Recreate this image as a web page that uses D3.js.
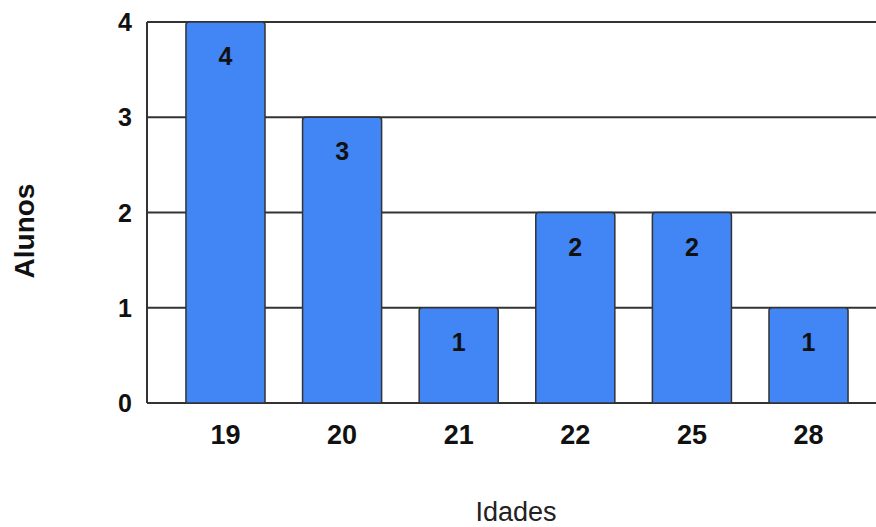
<!DOCTYPE html>
<html>
<head>
<meta charset="utf-8">
<script src="https://cdn.jsdelivr.net/npm/d3@7"></script>
<style>
  body { margin: 0; background: #fff; }
  svg { display: block; font-family: "Liberation Sans", Arial, sans-serif; }
</style>
</head>
<body>
<svg id="chart" width="876" height="527"></svg>
<script>
// data
const idades = ['19', '20', '21', '22', '25', '28'];
const alunos = [4, 3, 1, 2, 2, 1];
const yTicks = [0, 1, 2, 3, 4];

const width = 876, height = 527;
const margins = { top: 22, left: 147, bottom: 124 };
const plotRight = 887;

const svg = d3.select('#chart');

const x = d3.scaleBand()
  .domain(idades)
  .range([margins.left, plotRight])
  .paddingInner(0.322)
  .paddingOuter(0.334);

const y = d3.scaleLinear()
  .domain([0, 4])
  .range([height - margins.bottom, margins.top]);

// gridlines
svg.append('g')
  .selectAll('line')
  .data(yTicks)
  .enter()
  .append('line')
  .attr('x1', margins.left)
  .attr('x2', plotRight)
  .attr('y1', d => y(d))
  .attr('y2', d => y(d))
  .attr('stroke', '#333')
  .attr('stroke-width', 2);

// left border
svg.append('line')
  .attr('x1', margins.left).attr('x2', margins.left)
  .attr('y1', y(4)).attr('y2', y(0))
  .attr('stroke', '#333')
  .attr('stroke-width', 2);

// bars with slightly rounded top corners
const r = 3;
svg.append('g')
  .selectAll('path')
  .data(idades)
  .enter()
  .append('path')
  .attr('d', (d, i) => {
    const x0 = x(d), x1 = x(d) + x.bandwidth();
    const y0 = y(0), y1 = y(alunos[i]);
    return `M${x0},${y0}V${y1 + r}Q${x0},${y1} ${x0 + r},${y1}H${x1 - r}Q${x1},${y1} ${x1},${y1 + r}V${y0}Z`;
  })
  .attr('fill', '#4285f4')
  .attr('stroke', '#333')
  .attr('stroke-width', 1.5);

// value labels
svg.append('g')
  .selectAll('text')
  .data(idades)
  .enter()
  .append('text')
  .attr('x', d => x(d) + x.bandwidth() / 2)
  .attr('y', (d, i) => y(alunos[i]) + 34)
  .attr('text-anchor', 'middle')
  .attr('dominant-baseline', 'central')
  .attr('font-size', 25)
  .attr('font-weight', 'bold')
  .attr('fill', '#111')
  .text((d, i) => alunos[i]);

// y tick labels
svg.append('g')
  .selectAll('text')
  .data(yTicks)
  .enter()
  .append('text')
  .attr('x', 132)
  .attr('y', d => y(d))
  .attr('text-anchor', 'end')
  .attr('dominant-baseline', 'central')
  .attr('font-size', 25)
  .attr('font-weight', 'bold')
  .attr('fill', '#111')
  .text(d => d);

// x tick labels
svg.append('g')
  .selectAll('text')
  .data(idades)
  .enter()
  .append('text')
  .attr('x', d => x(d) + x.bandwidth() / 2)
  .attr('y', 435)
  .attr('text-anchor', 'middle')
  .attr('dominant-baseline', 'central')
  .attr('font-size', 27)
  .attr('font-weight', 'bold')
  .attr('fill', '#111')
  .text(d => d);

// axis titles
svg.append('text')
  .attr('transform', 'translate(24,231) rotate(-90)')
  .attr('text-anchor', 'middle')
  .attr('dominant-baseline', 'central')
  .attr('font-size', 28)
  .attr('font-weight', 'bold')
  .attr('fill', '#111')
  .text('Alunos');

svg.append('text')
  .attr('x', 516)
  .attr('y', 512)
  .attr('text-anchor', 'middle')
  .attr('dominant-baseline', 'central')
  .attr('font-size', 27)
  .attr('fill', '#222')
  .text('Idades');
</script>
</body>
</html>
